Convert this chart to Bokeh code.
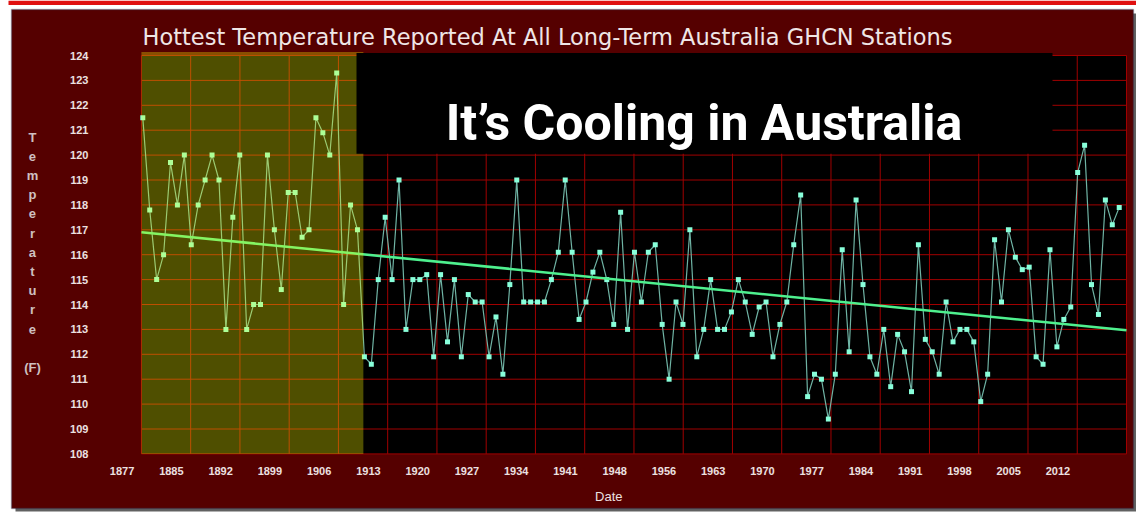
import numpy as np
from bokeh.plotting import figure
from bokeh.models import BoxAnnotation, Label, LabelSet, ColumnDataSource, Range1d
from bokeh.core.properties import value
from bokeh.embed import file_html
from bokeh.resources import INLINE

# ---------------- data ----------------
TITLE = "Hottest Temperature Reported At All Long-Term Australia GHCN Stations"
HEADLINE = "It\u2019s Cooling in Australia"
X_LABEL = "Date"
Y_LABEL = "T\ne\nm\np\ne\nr\na\nt\nu\nr\ne\n\n(F)"

YEARS = list(range(1878, 2020))
TEMPS_F = [
    # 1878-1909
    121.5, 117.8, 115.0, 116.0, 119.7, 118.0, 120.0, 116.4, 118.0, 119.0,
    120.0, 119.0, 113.0, 117.5, 120.0, 113.0, 114.0, 114.0, 120.0, 117.0,
    114.6, 118.5, 118.5, 116.7, 117.0, 121.5, 120.9, 120.0, 123.3, 114.0,
    118.0, 117.0,
    # 1910-2019
    111.9, 111.6, 115.0, 117.5, 115.0, 119.0, 113.0, 115.0, 115.0, 115.2,
    111.9, 115.2, 112.5, 115.0, 111.9, 114.4, 114.1, 114.1, 111.9, 113.5,
    111.2, 114.8, 119.0, 114.1, 114.1, 114.1, 114.1, 115.0, 116.1, 119.0,
    116.1, 113.4, 114.1, 115.3, 116.1, 115.0, 113.2, 117.7, 113.0, 116.1,
    114.1, 116.1, 116.4, 113.2, 111.0, 114.1, 113.2, 117.0, 111.9, 113.0,
    115.0, 113.0, 113.0, 113.7, 115.0, 114.1, 112.8, 113.9, 114.1, 111.9,
    113.2, 114.1, 116.4, 118.4, 110.3, 111.2, 111.0, 109.4, 111.2, 116.2,
    112.1, 118.2, 114.8, 111.9, 111.2, 113.0, 110.7, 112.8, 112.1, 110.5,
    116.4, 112.6, 112.1, 111.2, 114.1, 112.5, 113.0, 113.0, 112.5, 110.1,
    111.2, 116.6, 114.1, 117.0, 115.9, 115.4, 115.5, 111.9, 111.6, 116.2,
    112.3, 113.4, 113.9, 119.3, 120.4, 114.8, 113.6, 118.2, 117.2, 117.9,
]
assert len(YEARS) == len(TEMPS_F)

Y_TICKS = list(range(108, 125))
X_TICK_LABELS = ["1877", "1885", "1892", "1899", "1906", "1913", "1920",
                 "1927", "1934", "1941", "1948", "1956", "1963", "1970",
                 "1977", "1984", "1991", "1998", "2005", "2012"]
BOM_START = 1909.85   # pre-1910 period highlighted

# ---------------- layout helpers (page pixels -> data) ----------------
W, H = 1136, 520
PX_PER_YEAR = 6.925
PX_PER_DEG = 24.9
X0 = 1878 - 142.3 / PX_PER_YEAR        # data x at page left edge
Y0 = 124 + 55.0 / PX_PER_DEG            # data y at page top edge


def dx(px):
    return X0 + px / PX_PER_YEAR


def dy(py):
    return Y0 - py / PX_PER_DEG


X_START, X_END = 1877.8, 2020.05        # plot-area extent
Y_START, Y_END = 108, 124

MAROON = "#550000"
GRID_RED = "#a00000"
TEXT_LIGHT = "#ece0e0"
SANS = "Liberation Sans"

p = figure(width=W, height=H,
           x_range=Range1d(dx(0), dx(W)), y_range=Range1d(dy(H), dy(0)),
           output_backend="svg", toolbar_location=None,
           x_axis_location=None, y_axis_location=None,
           min_border=0, outline_line_color=None,
           background_fill_color="white", border_fill_color="white")
p.title = None
p.grid.visible = False

# page decoration: red strip, shadow, maroon panel
p.add_layout(BoxAnnotation(left=dx(8), right=dx(W), top=dy(0), bottom=dy(4.5),
                           fill_color="#e01010", fill_alpha=1, line_color=None,
                           level="image"))
p.add_layout(BoxAnnotation(left=dx(15), right=dx(1136), top=dy(13), bottom=dy(511),
                           fill_color="#3a3a3a", fill_alpha=0.8, line_color=None,
                           level="image"))
p.add_layout(BoxAnnotation(left=dx(11), right=dx(1133), top=dy(9), bottom=dy(508),
                           fill_color=MAROON, fill_alpha=1, line_color="#33456e",
                           line_width=1.5, level="image"))
# plot area
p.add_layout(BoxAnnotation(left=X_START, right=X_END, bottom=Y_START, top=Y_END,
                           fill_color="black", fill_alpha=1, line_color=None,
                           level="image"))

# grid lines (from the tick arrays, through the data scales)
step = (X_END - X_START) / 20
grid_x = [X_START + k * step for k in range(21)]
p.segment(x0=[X_START] * len(Y_TICKS), x1=[X_END] * len(Y_TICKS),
          y0=Y_TICKS, y1=Y_TICKS, line_color=GRID_RED, line_width=1)
p.segment(x0=grid_x, x1=grid_x, y0=[Y_START] * len(grid_x),
          y1=[Y_END] * len(grid_x), line_color=GRID_RED, line_width=1)

# data
p.line(YEARS, TEMPS_F, line_color="#6fb3a4", line_width=1.2)
p.scatter(YEARS, TEMPS_F, marker="square", size=5,
          fill_color="#88ffda", line_color=None)

# linear trend
coef = np.polyfit(np.array(YEARS, float), np.array(TEMPS_F, float), 1)
tx = [X_START, X_END]
ty = list(np.polyval(coef, tx))
p.line(tx, ty, line_color="#4ef08e", line_width=2.6)

# yellow translucent highlight of the pre-1910 period
p.add_layout(BoxAnnotation(left=X_START, right=BOM_START, bottom=Y_START,
                           top=dy(51.5), fill_color="#ffff00",
                           fill_alpha=0.31, line_color=None))

# headline box + text
p.add_layout(BoxAnnotation(left=dx(356), right=dx(1052), bottom=dy(153.3),
                           top=dy(52.5), fill_color="black", fill_alpha=1,
                           line_color=None))
p.add_layout(Label(x=dx(703.5), y=dy(122.5), text=HEADLINE,
                   text_align="center", text_baseline="alphabetic",
                   text_font="Roboto", text_font_style="bold",
                   text_font_size="50px", text_color="white"))

# title
p.add_layout(Label(x=dx(142), y=dy(36), text=TITLE, text_align="left",
                   text_baseline="alphabetic", text_font="DejaVu Sans",
                   text_font_size="22.5px", text_color="#efe6e6"))

# y tick labels
ysrc = ColumnDataSource(dict(x=[dx(78.8)] * len(Y_TICKS), y=Y_TICKS,
                             text=[str(v) for v in Y_TICKS]))
p.add_layout(LabelSet(x="x", y="y", text="text", source=ysrc,
                      text_align="center", text_baseline="middle",
                      text_font=value(SANS), text_font_style="bold",
                      text_font_size="11px", text_color=TEXT_LIGHT))

# x tick labels (offset left of the grid lines, as in the original)
xsrc = ColumnDataSource(dict(
    x=[grid_x[k] - 0.392 * step for k in range(len(X_TICK_LABELS))],
    y=[dy(470)] * len(X_TICK_LABELS),
    text=X_TICK_LABELS))
p.add_layout(LabelSet(x="x", y="y", text="text", source=xsrc,
                      text_align="center", text_baseline="middle",
                      text_font=value(SANS), text_font_style="bold",
                      text_font_size="11px", text_color=TEXT_LIGHT))

# axis titles
p.add_layout(Label(x=dx(608.3), y=dy(496), text=X_LABEL, text_align="center",
                   text_baseline="alphabetic", text_font=SANS,
                   text_font_size="13px", text_color=TEXT_LIGHT))
p.add_layout(Label(x=dx(32), y=dy(129), text=Y_LABEL, text_align="center",
                   text_baseline="top", text_font=SANS,
                   text_font_style="bold", text_font_size="13px",
                   text_line_height=1.28, text_color="#cfc0c0"))

open("out.html", "w").write(file_html(p, INLINE))
